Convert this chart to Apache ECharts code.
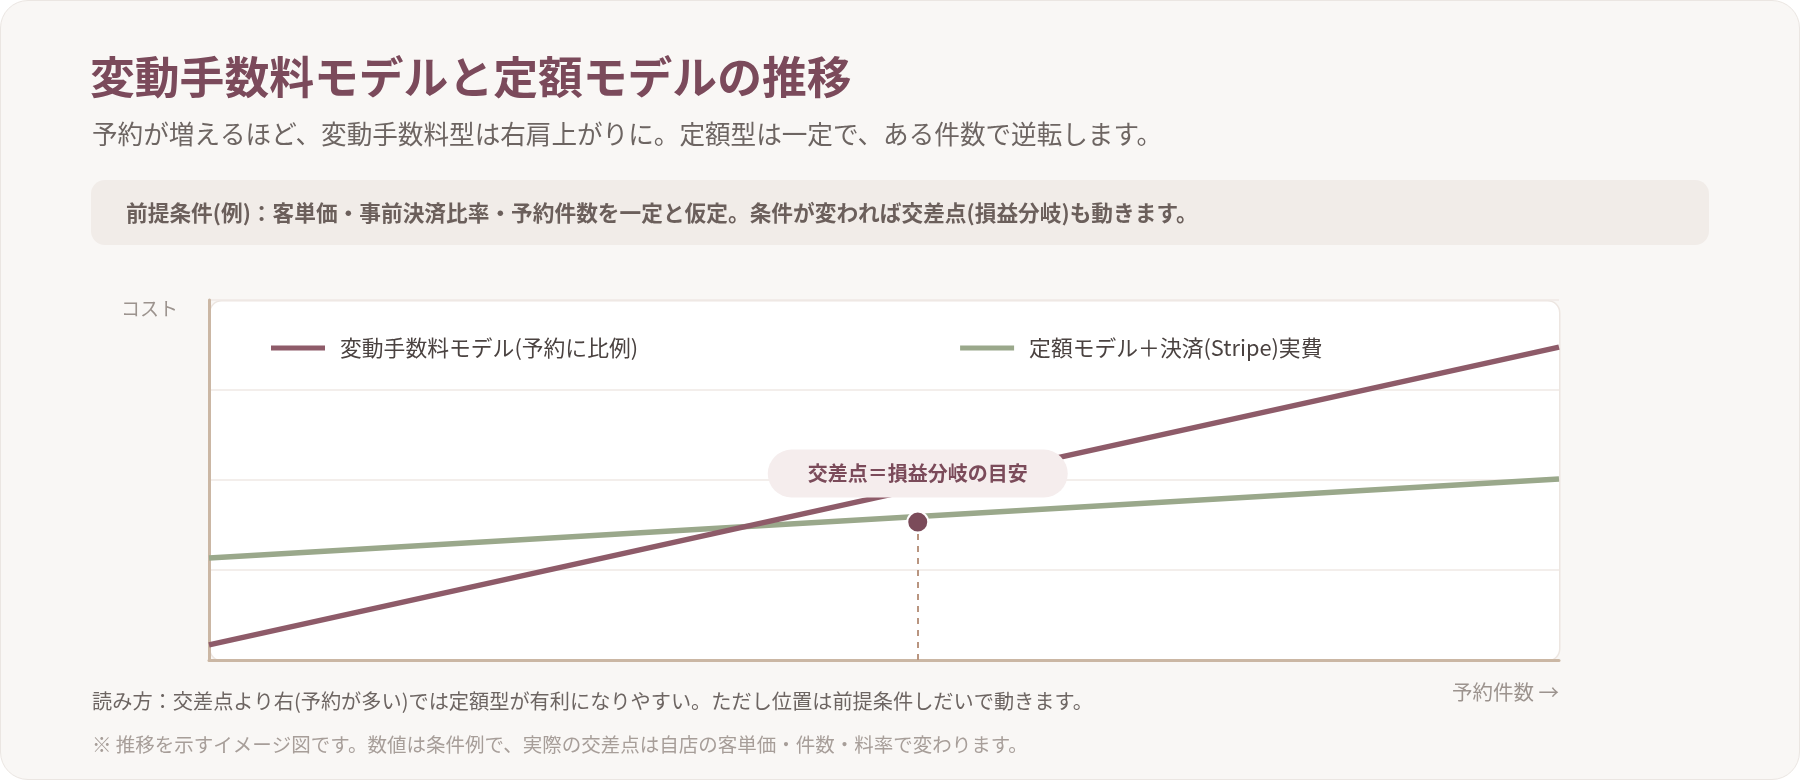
<!DOCTYPE html>
<html lang="ja">
<head>
<meta charset="utf-8">
<title>変動手数料モデルと定額モデルの推移</title>
<script src="https://cdn.jsdelivr.net/npm/echarts@6/dist/echarts.min.js"></script>
<style>
html, body { margin: 0; padding: 0; background: #fff; }
.card {
  position: absolute; left: 0; top: 0;
  width: 1798px; height: 778px;
  border: 1px solid #ebe6e2; border-radius: 28px;
  background: #f9f7f5;
}
#chart { position: absolute; left: 0; top: 0; width: 1800px; height: 780px; }
</style>
</head>
<body>
<div class="card"></div>
<div id="chart"></div>
<script>
// data (arbitrary cost units, 0-100)
var seriesNames = ["変動手数料モデル(予約に比例)", "定額モデル＋決済(Stripe)実費"];
var bookings = [0, 100];
var variableCost = [4.2, 86.9];
var fixedCost = [28.3, 50.3];
var costTicks = [0, 25, 50, 75, 100];
var crossPoint = [52.5, 38.3];
var crossLabel = "交差点＝損益分岐の目安";

var FONT = "'Noto Sans CJK JP', 'Noto Sans', sans-serif";
var grid = { left: 209, top: 300, right: 241, bottom: 120 };
var plotW = 1800 - grid.left - grid.right;
var plotH = 780 - grid.top - grid.bottom;

function pairs(xs, ys) {
  return xs.map(function (x, i) { return [x, ys[i]]; });
}

var chart = echarts.init(document.getElementById("chart"));
chart.setOption({
  textStyle: { fontFamily: FONT },
  animation: false,
  grid: grid,
  graphic: [
    {
      type: "text", left: 90, top: 55,
      style: { text: "変動手数料モデルと定額モデルの推移", font: "bold 44.8px " + FONT, fill: "#7b4a5b" }
    },
    {
      type: "text", left: 92, top: 121,
      style: { text: "予約が増えるほど、変動手数料型は右肩上がりに。定額型は一定で、ある件数で逆転します。", font: "25.6px " + FONT, fill: "#6d6562" }
    },
    {
      type: "rect", left: 91, top: 180, z: -10,
      shape: { width: 1618, height: 65, r: 14 },
      style: { fill: "#f1ece8" }
    },
    {
      type: "text", left: 126, top: 202,
      style: { text: "前提条件(例)：客単価・事前決済比率・予約件数を一定と仮定。条件が変われば交差点(損益分岐)も動きます。", font: "bold 21.7px " + FONT, fill: "#6b5f5b" }
    },
    {
      type: "rect", left: grid.left, top: grid.top, z: -10,
      shape: { width: plotW, height: plotH, r: 12 },
      style: { fill: "#fff", stroke: "#ede6e1", lineWidth: 1.5 }
    },
    {
      type: "text", left: 92, top: 691,
      style: { text: "読み方：交差点より右(予約が多い)では定額型が有利になりやすい。ただし位置は前提条件しだいで動きます。", font: "20.2px " + FONT, fill: "#6d6562" }
    },
    {
      type: "text", left: 92, top: 735,
      style: { text: "※ 推移を示すイメージ図です。数値は条件例で、実際の交差点は自店の客単価・件数・料率で変わります。", font: "19.5px " + FONT, fill: "#a79e99" }
    }
  ],
  legend: {
    data: seriesNames,
    left: 266,
    top: 332,
    icon: "rect",
    itemWidth: 54,
    itemHeight: 5,
    itemGap: 322,
    textStyle: { fontSize: 21.8, color: "#4a4240", padding: [0, 0, 0, 10] }
  },
  xAxis: {
    type: "value",
    min: bookings[0],
    max: bookings[bookings.length - 1],
    name: "予約件数 →",
    nameLocation: "end",
    nameGap: 0,
    nameTextStyle: { fontSize: 20.5, color: "#9c938e", align: "right", verticalAlign: "top", padding: [22, 0, 0, 0] },
    axisLine: { show: true, lineStyle: { color: "#cbb7a4", width: 3 } },
    axisTick: { show: false },
    axisLabel: { show: false },
    splitLine: { show: false }
  },
  yAxis: {
    type: "value",
    min: costTicks[0],
    max: costTicks[costTicks.length - 1],
    interval: costTicks[1] - costTicks[0],
    name: "コスト",
    nameLocation: "end",
    nameGap: -18,
    nameTextStyle: { fontSize: 19, color: "#9c938e", align: "right", padding: [0, 31, 0, 0] },
    axisLine: { show: true, lineStyle: { color: "#cbb7a4", width: 3 } },
    axisTick: { show: false },
    axisLabel: { show: false },
    splitLine: { show: true, lineStyle: { color: "#efe8e4", width: 1.5 } }
  },
  series: [
    {
      name: seriesNames[0],
      type: "line",
      data: pairs(bookings, variableCost),
      showSymbol: false,
      itemStyle: { color: "#8e5b69" },
      lineStyle: { color: "#8e5b69", width: 5.5 },
      z: 3
    },
    {
      name: seriesNames[1],
      type: "line",
      data: pairs(bookings, fixedCost),
      showSymbol: false,
      itemStyle: { color: "#9aa88b" },
      lineStyle: { color: "#9aa88b", width: 5.5 },
      z: 2
    },
    {
      type: "scatter",
      data: [crossPoint],
      symbolSize: 21,
      itemStyle: { color: "#7b4b5a", borderColor: "#fff", borderWidth: 2, opacity: 1 },
      z: 5,
      label: {
        show: true,
        position: "top",
        distance: 13,
        formatter: crossLabel,
        fontSize: 20,
        fontWeight: "bold",
        color: "#7b4b5a",
        backgroundColor: "#f5eded",
        borderRadius: 25,
        padding: [14, 40]
      },
      markLine: {
        silent: true,
        symbol: "none",
        label: { show: false },
        lineStyle: { color: "#b99580", width: 2, type: [6, 6] },
        data: [[{ coord: crossPoint }, { coord: [crossPoint[0], costTicks[0]] }]]
      }
    }
  ]
});
</script>
</body>
</html>
